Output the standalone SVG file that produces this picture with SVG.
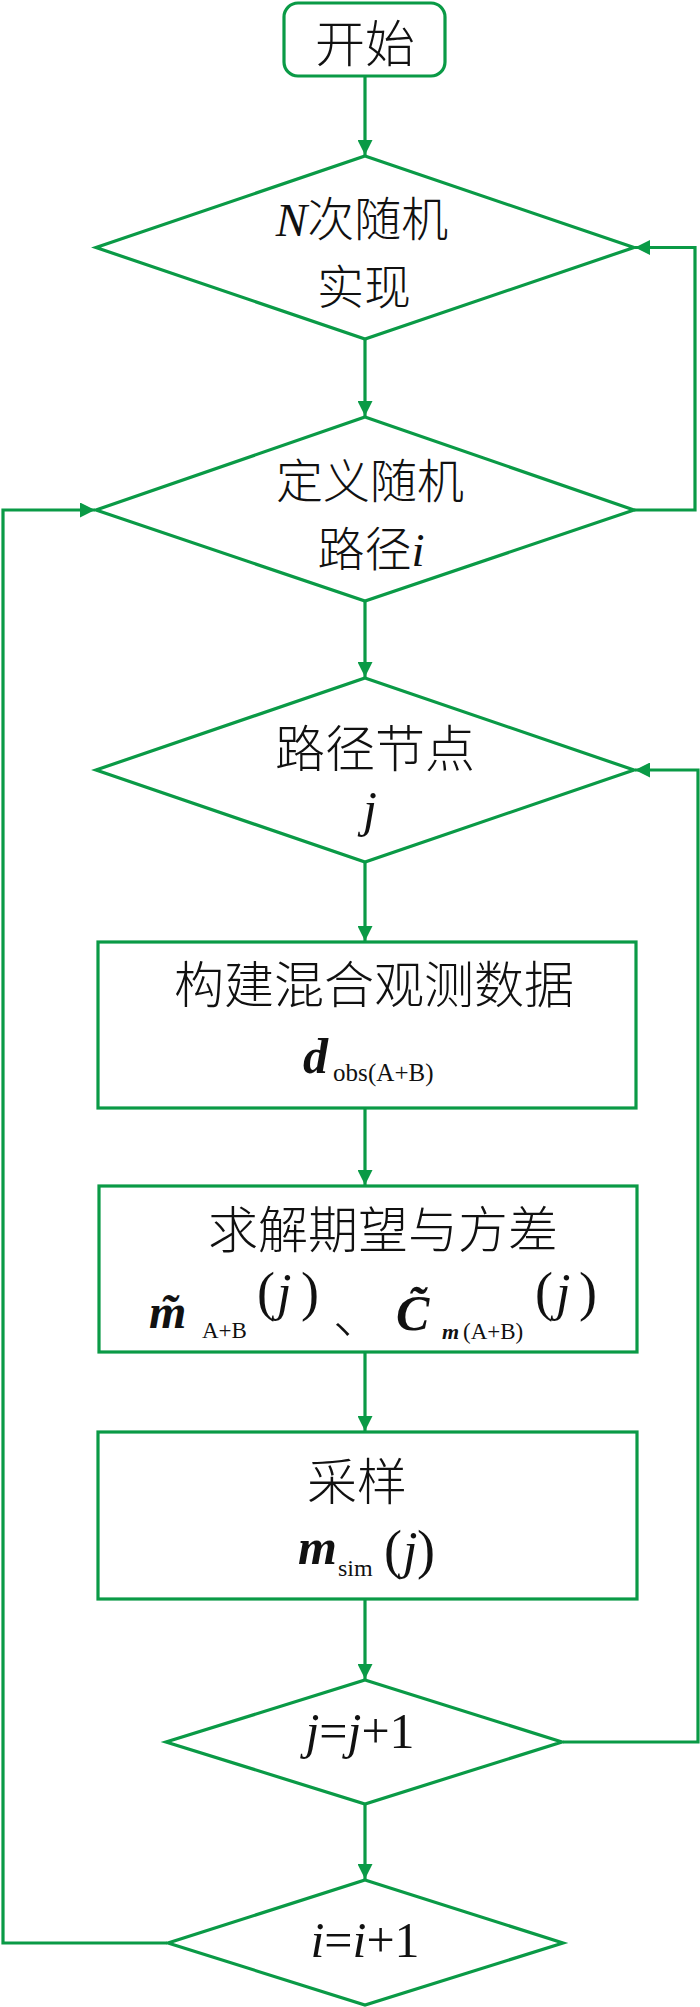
<svg xmlns="http://www.w3.org/2000/svg" width="700" height="2007" viewBox="0 0 700 2007">
<style>
.shape{fill:#fff;stroke:#0a9a46;stroke-width:3.2}
.conn{fill:none;stroke:#0a9a46;stroke-width:3.2}
.t{font-family:"Liberation Serif","Noto Sans CJK SC",serif;font-size:50px;fill:#111;font-weight:300}
.d2{font-size:47px}
.cjk{font-family:"Noto Sans CJK SC","Noto Sans CJK JP",sans-serif;font-weight:300;font-style:normal}
.it{font-family:"Liberation Serif",serif;font-style:italic;font-weight:400}
.bi{font-family:"Liberation Serif",serif;font-style:italic;font-weight:700}
.rm{font-family:"Liberation Serif",serif;font-style:normal;font-weight:400}
</style>
<defs>
<marker id="arr" viewBox="0 0 10 10" refX="10" refY="5" markerUnits="userSpaceOnUse" markerWidth="15" markerHeight="15" orient="auto">
<path d="M0,0 L10,5 L0,10 z" fill="#0a9a46"/>
</marker>
</defs>
<rect width="700" height="2007" fill="#fff"/>
<g id="connectors">
<line class="conn" x1="365" y1="76" x2="365" y2="155" marker-end="url(#arr)"/>
<line class="conn" x1="365" y1="339" x2="365" y2="416" marker-end="url(#arr)"/>
<line class="conn" x1="365" y1="601" x2="365" y2="677" marker-end="url(#arr)"/>
<line class="conn" x1="365" y1="862" x2="365" y2="941" marker-end="url(#arr)"/>
<line class="conn" x1="365" y1="1108" x2="365" y2="1185" marker-end="url(#arr)"/>
<line class="conn" x1="365" y1="1352" x2="365" y2="1431" marker-end="url(#arr)"/>
<line class="conn" x1="365" y1="1599" x2="365" y2="1679" marker-end="url(#arr)"/>
<line class="conn" x1="365" y1="1804" x2="365" y2="1879" marker-end="url(#arr)"/>
<polyline class="conn" points="634,510 695,510 695,247.5 635,247.5" marker-end="url(#arr)"/>
<polyline class="conn" points="563,1742 698,1742 698,770 635,770" marker-end="url(#arr)"/>
<polyline class="conn" points="167,1943 3,1943 3,510 95,510" marker-end="url(#arr)"/>
</g>
<g id="start">
<rect class="shape" x="284" y="3" width="161" height="73" rx="14"/>
<text class="t cjk" x="365" y="62" text-anchor="middle">开始</text>
</g>
<g id="realize">
<polygon class="shape" points="365,156 634,247.5 365,339 96,247.5"/>
<text class="t d2" text-anchor="middle"><tspan x="362" y="236"><tspan class="it">N</tspan><tspan class="cjk">次随机</tspan></tspan><tspan class="cjk" x="364" y="304">实现</tspan></text>
</g>
<g id="path-i">
<polygon class="shape" points="365,417 634,510 365,601 96,510"/>
<text class="t d2" text-anchor="middle"><tspan class="cjk" x="370" y="498">定义随机</tspan><tspan x="371" y="566"><tspan class="cjk">路径</tspan><tspan class="it">i</tspan></tspan></text>
</g>
<g id="node-j">
<polygon class="shape" points="365,678 634,770 365,862 96,770"/>
<text class="t" text-anchor="middle"><tspan class="cjk" x="375" y="767">路径节点</tspan><tspan class="it" x="370" y="826">j</tspan></text>
</g>
<g id="build-data">
<rect class="shape" x="98" y="942" width="538" height="166"/>
<text class="t cjk" x="374" y="1003" text-anchor="middle">构建混合观测数据</text>
<text class="t" y="1073"><tspan class="bi" x="303">d</tspan><tspan class="rm" x="333" y="1081" font-size="25">obs</tspan><tspan class="rm" x="368" y="1081" font-size="25">(A+B)</tspan></text>
</g>
<g id="solve">
<rect class="shape" x="99" y="1186" width="538" height="166"/>
<text class="t cjk" x="208" y="1248">求解期望与方差</text>
<text class="t"><tspan class="bi" x="149" y="1328" font-size="48">m̃</tspan><tspan class="rm" x="202" y="1338" font-size="23">A+B</tspan><tspan class="rm" x="257" y="1310" font-size="54">(</tspan><tspan class="it" x="277" y="1310" font-size="52">j</tspan><tspan class="rm" x="301" y="1310" font-size="54">)</tspan><tspan class="cjk" x="333" y="1333">、</tspan><tspan class="bi" x="396" y="1330">C̃</tspan><tspan class="bi" x="442" y="1339" font-size="22">m</tspan><tspan class="rm" x="463" y="1339" font-size="23">(A+B)</tspan><tspan class="rm" x="535" y="1310" font-size="54">(</tspan><tspan class="it" x="556" y="1310" font-size="52">j</tspan><tspan class="rm" x="579" y="1310" font-size="54">)</tspan></text>
</g>
<g id="sample">
<rect class="shape" x="98" y="1432" width="539" height="167"/>
<text class="t cjk" x="357" y="1500" text-anchor="middle">采样</text>
<text class="t"><tspan class="bi" x="298" y="1564">m</tspan><tspan class="rm" x="338" y="1576" font-size="24">sim</tspan><tspan class="rm" x="384" y="1568" font-size="54">(</tspan><tspan class="it" x="403" y="1568" font-size="52">j</tspan><tspan class="rm" x="417" y="1568" font-size="54">)</tspan></text>
</g>
<g id="j-inc">
<polygon class="shape" points="365,1680 562,1742 365,1804 166,1742"/>
<text class="t it" x="360" y="1748" text-anchor="middle" font-size="52">j<tspan class="rm">=</tspan>j<tspan class="rm">+1</tspan></text>
</g>
<g id="i-inc">
<polygon class="shape" points="365,1880 563,1943 365,2005 168,1943"/>
<text class="t it" x="365" y="1957" text-anchor="middle" font-size="52">i<tspan class="rm">=</tspan>i<tspan class="rm">+1</tspan></text>
</g>
</svg>
